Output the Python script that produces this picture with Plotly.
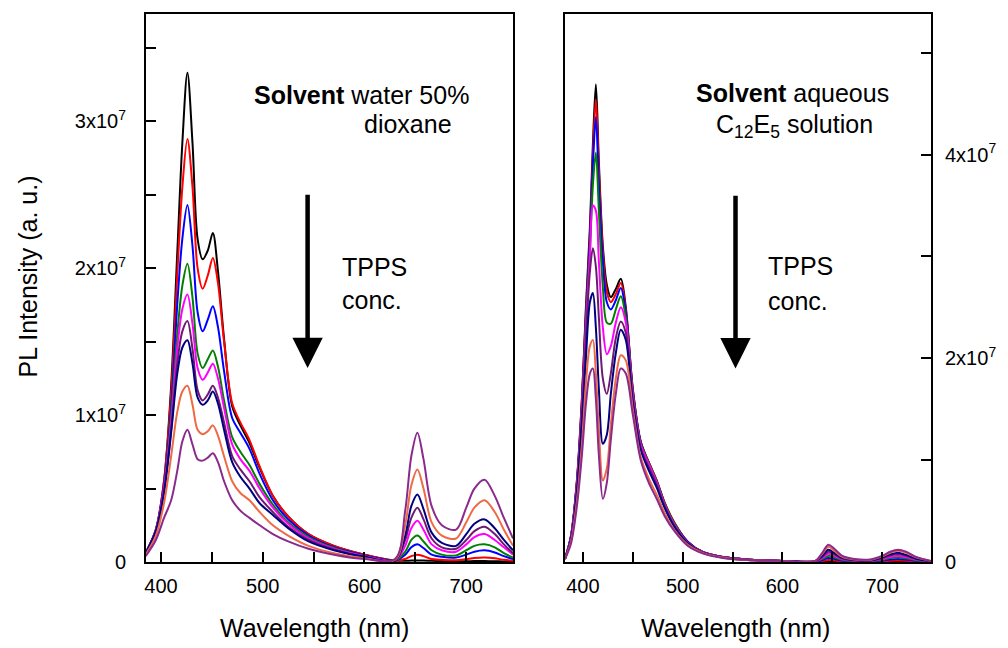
import plotly.graph_objects as go

# ---------------- data (intensity in units of 1e7, a.u.) ----------------
SERIES_NAMES = ["c0", "c1", "c2", "c3", "c4", "c5", "c6", "c7", "c8"]
SERIES_COLORS = ["#000000", "#FF0000", "#0000FF", "#008000", "#FF00FF",
                 "#6E1A72", "#000080", "#EE6A45", "#8A2A8C"]

# Left panel: water / 50% dioxane
WL_LEFT = [385, 395, 403, 410, 416, 421, 426, 431, 436, 441, 446, 451, 456, 462,
           470, 478, 487, 497, 510, 525, 545, 570, 600, 630, 640, 646, 652, 658,
           666, 676, 690, 700, 708, 718, 728, 737, 746]

L_C0 = [0.06, 0.22, 0.55, 1.20, 2.10, 2.85, 3.33, 2.85, 2.20, 2.06, 2.12, 2.24, 1.98, 1.52,
        1.06, 0.93, 0.81, 0.64, 0.45, 0.31, 0.19, 0.11, 0.05, 0.01, 0.008, 0.01, 0.01, 0.01,
        0.008, 0.006, 0.005, 0.005, 0.006, 0.006, 0.005, 0.004, 0.003]
L_C1 = [0.06, 0.22, 0.55, 1.15, 1.95, 2.55, 2.88, 2.55, 2.00, 1.86, 1.95, 2.07, 1.90, 1.50,
        1.08, 0.95, 0.83, 0.65, 0.45, 0.31, 0.19, 0.11, 0.05, 0.01, 0.02, 0.04, 0.05, 0.04,
        0.02, 0.015, 0.012, 0.02, 0.027, 0.03, 0.025, 0.015, 0.008]
L_C2 = [0.06, 0.22, 0.52, 1.05, 1.75, 2.20, 2.43, 2.15, 1.70, 1.57, 1.65, 1.74, 1.60, 1.30,
        0.98, 0.88, 0.77, 0.60, 0.42, 0.29, 0.18, 0.10, 0.045, 0.01, 0.05, 0.10, 0.12, 0.095,
        0.05, 0.035, 0.03, 0.05, 0.07, 0.08, 0.065, 0.04, 0.02]
L_C3 = [0.06, 0.22, 0.50, 1.00, 1.55, 1.88, 2.03, 1.80, 1.42, 1.32, 1.38, 1.44, 1.33, 1.10,
        0.85, 0.75, 0.66, 0.53, 0.39, 0.27, 0.17, 0.095, 0.04, 0.01, 0.07, 0.15, 0.18, 0.14,
        0.08, 0.05, 0.045, 0.08, 0.11, 0.12, 0.10, 0.06, 0.03]
L_C4 = [0.06, 0.22, 0.50, 0.95, 1.45, 1.72, 1.82, 1.62, 1.32, 1.24, 1.29, 1.35, 1.25, 1.05,
        0.80, 0.70, 0.62, 0.50, 0.37, 0.26, 0.16, 0.09, 0.04, 0.01, 0.11, 0.23, 0.28, 0.22,
        0.12, 0.08, 0.07, 0.12, 0.17, 0.19, 0.15, 0.10, 0.05]
L_C5 = [0.06, 0.21, 0.48, 0.90, 1.35, 1.57, 1.64, 1.45, 1.17, 1.10, 1.14, 1.20, 1.12, 0.95,
        0.72, 0.63, 0.55, 0.44, 0.34, 0.24, 0.15, 0.085, 0.035, 0.01, 0.15, 0.30, 0.37, 0.29,
        0.16, 0.10, 0.09, 0.15, 0.21, 0.24, 0.19, 0.12, 0.06]
L_C6 = [0.06, 0.21, 0.47, 0.88, 1.28, 1.46, 1.51, 1.35, 1.12, 1.07, 1.10, 1.16, 1.08, 0.90,
        0.68, 0.58, 0.50, 0.40, 0.32, 0.23, 0.14, 0.08, 0.035, 0.01, 0.18, 0.38, 0.46, 0.36,
        0.20, 0.13, 0.11, 0.19, 0.26, 0.29, 0.23, 0.15, 0.08]
L_C7 = [0.05, 0.18, 0.40, 0.72, 1.02, 1.16, 1.20, 1.07, 0.90, 0.87, 0.89, 0.93, 0.86, 0.72,
        0.55, 0.47, 0.42, 0.34, 0.25, 0.18, 0.11, 0.06, 0.025, 0.015, 0.25, 0.52, 0.63, 0.50,
        0.27, 0.18, 0.16, 0.27, 0.37, 0.42, 0.34, 0.22, 0.11]
L_C8 = [0.04, 0.15, 0.30, 0.42, 0.62, 0.82, 0.90, 0.80, 0.70, 0.69, 0.71, 0.74, 0.68, 0.55,
        0.42, 0.35, 0.30, 0.25, 0.19, 0.14, 0.09, 0.05, 0.02, 0.02, 0.35, 0.72, 0.88, 0.70,
        0.38, 0.25, 0.22, 0.37, 0.50, 0.56, 0.45, 0.30, 0.16]

# Right panel: aqueous C12E5 solution
WL_RIGHT = [382, 388, 394, 399, 403, 407, 410, 413, 416, 420, 424, 428, 433, 438, 443, 450,
            458, 466, 474, 482, 492, 505, 520, 540, 565, 600, 632, 640, 646, 652, 660, 672,
            688, 700, 708, 716, 724, 734, 749]

R_C0 = [0.03, 0.25, 0.80, 1.60, 2.50, 3.28, 4.10, 4.69, 3.93, 3.10, 2.72, 2.60, 2.68, 2.78, 2.50, 1.70,
        1.18, 0.98, 0.80, 0.58, 0.38, 0.20, 0.10, 0.05, 0.025, 0.01, 0.002, 0.005, 0.01, 0.008, 0.004, 0.003,
        0.003, 0.005, 0.007, 0.008, 0.006, 0.003, 0.001]
R_C1 = [0.03, 0.25, 0.80, 1.60, 2.45, 3.20, 4.00, 4.54, 3.85, 3.05, 2.65, 2.55, 2.63, 2.74, 2.48, 1.70,
        1.18, 0.98, 0.80, 0.58, 0.38, 0.20, 0.10, 0.05, 0.025, 0.01, 0.003, 0.01, 0.02, 0.015, 0.007, 0.004,
        0.004, 0.008, 0.013, 0.015, 0.012, 0.006, 0.002]
R_C2 = [0.03, 0.25, 0.78, 1.55, 2.40, 3.15, 3.90, 4.37, 3.70, 2.95, 2.55, 2.48, 2.57, 2.69, 2.45, 1.68,
        1.17, 0.97, 0.79, 0.57, 0.37, 0.20, 0.10, 0.05, 0.025, 0.01, 0.003, 0.02, 0.04, 0.03, 0.014, 0.006,
        0.005, 0.015, 0.025, 0.03, 0.024, 0.012, 0.003]
R_C3 = [0.03, 0.24, 0.76, 1.52, 2.35, 3.05, 3.70, 4.02, 3.45, 2.70, 2.35, 2.34, 2.48, 2.61, 2.40, 1.66,
        1.16, 0.97, 0.79, 0.57, 0.37, 0.19, 0.10, 0.05, 0.025, 0.01, 0.004, 0.03, 0.06, 0.045, 0.021, 0.009,
        0.008, 0.022, 0.038, 0.045, 0.036, 0.018, 0.005]
R_C4 = [0.03, 0.24, 0.75, 1.50, 2.30, 3.00, 3.50, 3.45, 2.95, 2.30, 2.04, 2.12, 2.35, 2.50, 2.35, 1.64,
        1.15, 0.96, 0.78, 0.56, 0.36, 0.19, 0.10, 0.05, 0.025, 0.01, 0.004, 0.04, 0.08, 0.06, 0.028, 0.012,
        0.01, 0.03, 0.05, 0.06, 0.048, 0.024, 0.006]
R_C5 = [0.03, 0.23, 0.72, 1.45, 2.20, 2.85, 3.08, 2.90, 2.40, 1.80, 1.65, 1.85, 2.20, 2.36, 2.25, 1.60,
        1.12, 0.93, 0.76, 0.55, 0.35, 0.19, 0.10, 0.05, 0.025, 0.01, 0.005, 0.05, 0.10, 0.075, 0.035, 0.015,
        0.012, 0.038, 0.064, 0.075, 0.06, 0.03, 0.007]
R_C6 = [0.03, 0.22, 0.68, 1.35, 2.00, 2.55, 2.64, 2.30, 1.70, 1.16, 1.25, 1.65, 2.05, 2.28, 2.18, 1.56,
        1.10, 0.90, 0.73, 0.53, 0.34, 0.18, 0.09, 0.045, 0.02, 0.01, 0.005, 0.06, 0.12, 0.09, 0.04, 0.02,
        0.015, 0.045, 0.075, 0.09, 0.07, 0.035, 0.008]
R_C7 = [0.03, 0.20, 0.60, 1.15, 1.75, 2.12, 2.18, 1.85, 1.30, 0.80, 0.92, 1.35, 1.80, 2.03, 1.98, 1.50,
        1.03, 0.82, 0.66, 0.48, 0.31, 0.17, 0.09, 0.045, 0.02, 0.01, 0.005, 0.08, 0.15, 0.11, 0.05, 0.025,
        0.02, 0.055, 0.09, 0.11, 0.09, 0.045, 0.01]
R_C8 = [0.03, 0.18, 0.55, 1.05, 1.55, 1.85, 1.90, 1.60, 1.05, 0.62, 0.78, 1.20, 1.65, 1.90, 1.85, 1.45,
        1.00, 0.78, 0.62, 0.45, 0.30, 0.16, 0.085, 0.04, 0.02, 0.01, 0.005, 0.09, 0.17, 0.13, 0.06, 0.03,
        0.025, 0.06, 0.10, 0.12, 0.10, 0.05, 0.01]

LEFT_SERIES = [L_C0, L_C1, L_C2, L_C3, L_C4, L_C5, L_C6, L_C7, L_C8]
RIGHT_SERIES = [R_C0, R_C1, R_C2, R_C3, R_C4, R_C5, R_C6, R_C7, R_C8]

X_TICKS = [400, 500, 600, 700]
LEFT_Y_TICKS = [0, 1, 2, 3]
LEFT_Y_LABELS = ["0", "1x10<sup>7</sup>", "2x10<sup>7</sup>", "3x10<sup>7</sup>"]
RIGHT_Y_TICKS = [0, 2, 4]
RIGHT_Y_LABELS = ["0", "2x10<sup>7</sup>", "4x10<sup>7</sup>"]

# ---------------- figure ----------------
FONT = "Arial, Liberation Sans, sans-serif"
fig = go.Figure()

for name, color, ys in zip(SERIES_NAMES, SERIES_COLORS, LEFT_SERIES):
    fig.add_trace(go.Scatter(x=WL_LEFT, y=ys, mode="lines", name=name,
                             line=dict(color=color, width=2, shape="spline", smoothing=0.9),
                             xaxis="x", yaxis="y", showlegend=False))
for name, color, ys in zip(SERIES_NAMES, SERIES_COLORS, RIGHT_SERIES):
    fig.add_trace(go.Scatter(x=WL_RIGHT, y=ys, mode="lines", name=name,
                             line=dict(color=color, width=2, shape="spline", smoothing=0.9),
                             xaxis="x2", yaxis="y2", showlegend=False))

axis_common = dict(showline=True, linecolor="black", linewidth=2, mirror=True,
                   ticks="inside", ticklen=10, tickwidth=2, tickcolor="black",
                   showgrid=False, zeroline=False,
                   tickfont=dict(family=FONT, size=20, color="black"))
minor_common = dict(ticks="inside", ticklen=10, tickwidth=2, tickcolor="black", tick0=0)

# the page body adds an 8px offset, so the figure starts at (8, 8) of the window
fig.update_layout(
    width=992, height=640,
    margin=dict(l=138, r=67, t=4, b=86),
    paper_bgcolor="white", plot_bgcolor="white",
    font=dict(family=FONT, color="black"),
    xaxis=dict(domain=[0, 0.4676], range=[385.3, 746], tickvals=X_TICKS,
               minor=dict(dtick=50, **minor_common),
               anchor="y", ticklabelstandoff=5, **axis_common),
    yaxis=dict(domain=[0, 1], range=[0, 3.73], tickvals=LEFT_Y_TICKS, ticktext=LEFT_Y_LABELS,
               minor=dict(dtick=0.5, **minor_common),
               anchor="x", ticklabelstandoff=14, **axis_common),
    xaxis2=dict(domain=[0.5337, 1], range=[382, 749], tickvals=X_TICKS,
                minor=dict(dtick=50, **minor_common),
                anchor="y2", ticklabelstandoff=5, **axis_common),
    yaxis2=dict(domain=[0, 1], range=[0, 5.38], tickvals=RIGHT_Y_TICKS, ticktext=RIGHT_Y_LABELS,
                minor=dict(dtick=1, **minor_common),
                anchor="x2", side="right", ticklabelstandoff=8, **axis_common),
)

TXT = dict(family=FONT, size=25, color="black")
ann = [
    # axis titles
    dict(text="PL Intensity (a. u.)", xref="paper", yref="paper", x=-0.151, y=0.522,
         textangle=-90, showarrow=False, font=TXT, xanchor="center", yanchor="middle"),
    dict(text="Wavelength (nm)", xref="paper", yref="paper", x=0.2147, y=-0.12,
         showarrow=False, font=TXT, xanchor="center", yanchor="middle"),
    dict(text="Wavelength (nm)", xref="paper", yref="paper", x=0.751, y=-0.12,
         showarrow=False, font=TXT, xanchor="center", yanchor="middle"),
    # left panel labels
    dict(text="<b>Solvent</b> water 50%", xref="x", yref="y", x=489.2, y=3.18,
         showarrow=False, font=TXT, xanchor="left", yanchor="middle"),
    dict(text="dioxane", xref="x", yref="y", x=597.1, y=2.98,
         showarrow=False, font=TXT, xanchor="left", yanchor="middle"),
    dict(text="TPPS", xref="x", yref="y", x=575.5, y=2.01,
         showarrow=False, font=TXT, xanchor="left", yanchor="middle"),
    dict(text="conc.", xref="x", yref="y", x=575.5, y=1.78,
         showarrow=False, font=TXT, xanchor="left", yanchor="middle"),
    dict(text="", xref="x", yref="y", x=544.1, y=1.32, axref="x", ayref="y", ax=544.1, ay=2.51,
         showarrow=True, arrowhead=2, arrowwidth=4.5, arrowsize=1.35, arrowcolor="black"),
    # right panel labels
    dict(text="<b>Solvent</b> aqueous", xref="x2", yref="y2", x=610, y=4.60,
         showarrow=False, font=TXT, xanchor="center", yanchor="middle"),
    dict(text="C<sub>12</sub>E<sub>5</sub> solution", xref="x2", yref="y2", x=612, y=4.28,
         showarrow=False, font=TXT, xanchor="center", yanchor="middle"),
    dict(text="TPPS", xref="x2", yref="y2", x=584, y=2.91,
         showarrow=False, font=TXT, xanchor="left", yanchor="middle"),
    dict(text="conc.", xref="x2", yref="y2", x=584, y=2.56,
         showarrow=False, font=TXT, xanchor="left", yanchor="middle"),
    dict(text="", xref="x2", yref="y2", x=553, y=1.90, axref="x2", ayref="y2", ax=553, ay=3.61,
         showarrow=True, arrowhead=2, arrowwidth=4.5, arrowsize=1.35, arrowcolor="black"),
]
fig.update_layout(annotations=ann)

fig.write_html("out.html")
